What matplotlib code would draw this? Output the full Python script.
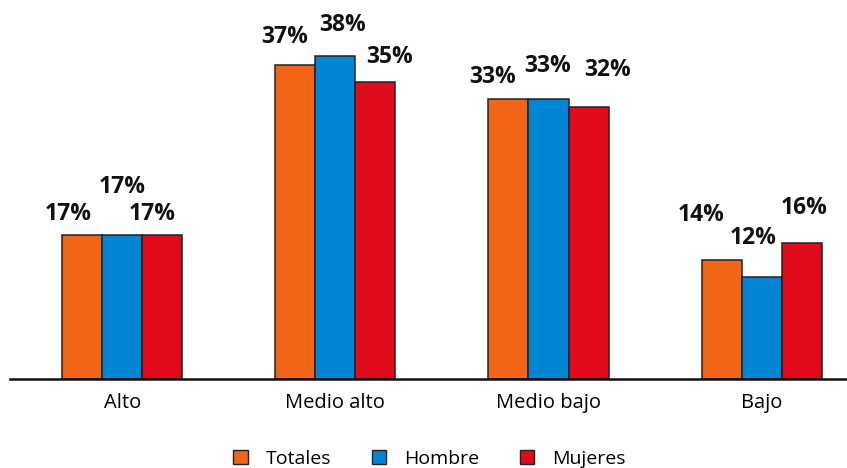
import numpy as np
import matplotlib.pyplot as plt
from matplotlib.patches import Patch

# Nivel socioeconómico por sexo (%)
niveles = ['Alto', 'Medio alto', 'Medio bajo', 'Bajo']
totales = [17, 37, 33, 14]
hombre = [17, 38, 33, 12]
mujeres = [17, 35, 32, 16]

series = ['Totales', 'Hombre', 'Mujeres']
colores = ['#F36516', '#0085D5', '#E10A1A']

# desplazamiento de cada etiqueta respecto al tope de su barra (pixeles)
label_dx = [[-14, 0, -10], [-11, 7, 14], [-16, -1, 19], [-21, -9, 2]]
label_dy = [[21, 48, 21], [28, 31, 25], [22, 33, 37], [45, 39, 35]]

plt.rcParams['font.family'] = ['Open Sans', 'DejaVu Sans']

fig = plt.figure(figsize=(8.47, 4.68), dpi=100)
ax = fig.add_axes([0.0118, 0.19, 0.9882, 0.81])

x = np.arange(len(niveles))
w = 0.188
datos = [totales, hombre, mujeres]
for j, (vals, col, nom) in enumerate(zip(datos, colores, series)):
    pos = x + (j - 1) * w
    ax.bar(pos, vals, width=w, color=col, edgecolor='#222222', linewidth=1.1, label=nom)
    for i, v in enumerate(vals):
        ax.annotate(f'{v}%', (pos[i], v), xytext=(label_dx[i][j], label_dy[i][j]),
                    textcoords='offset pixels', ha='center', va='center',
                    fontsize=16.5, fontweight='bold', color='#111111')

ax.set_xlim(-0.526, 3.40)
ax.set_ylim(0, 44.6)
ax.set_xticks(x)
ax.set_xticklabels(niveles, fontsize=14.5)
ax.tick_params(axis='x', length=0, pad=10)
ax.set_yticks([])
for s in ['top', 'right', 'left']:
    ax.spines[s].set_visible(False)
ax.spines['bottom'].set_linewidth(1.8)
ax.spines['bottom'].set_color('#111111')

handles = [Patch(facecolor=c, edgecolor='#222222', linewidth=1.0) for c in colores]
fig.legend(handles, series, loc='lower center', ncol=3, frameon=False,
           fontsize=14, handlelength=0.75, handleheight=0.75, handletextpad=0.9,
           columnspacing=2.1, bbox_to_anchor=(0.507, -0.037))

fig.savefig('out.png', dpi=100)
